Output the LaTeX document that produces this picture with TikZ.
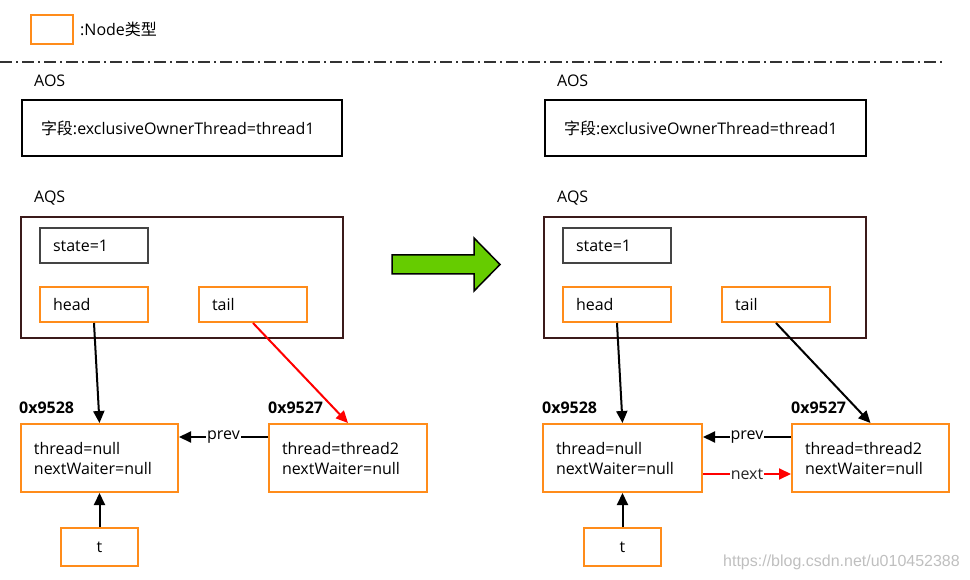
\documentclass[tikz,border=0pt]{standalone}
\usepackage{fontspec}
\setmainfont{Open Sans}
\newfontfamily\cjk{Noto Sans CJK SC}
\newfontfamily\wmfont{Liberation Sans}
\usepackage{xcolor}
\usetikzlibrary{arrows.meta, positioning}

\definecolor{nodeorange}{HTML}{FF8C1A}
\definecolor{aqsbrown}{HTML}{3B1A1A}
\definecolor{stategray}{HTML}{444444}
\definecolor{gogreen}{HTML}{66CC00}

\begin{document}
\begin{tikzpicture}[x=1pt, y=-1pt, >={Triangle[length=12pt,width=11pt]},
    font=\fontsize{16}{20}\selectfont,
    nodebox/.style={rectangle, draw=nodeorange, line width=2pt, anchor=north west, align=left, inner xsep=13pt, inner ysep=0pt},
    fieldbox/.style={rectangle, draw=black, line width=2pt, anchor=north west, align=left, inner xsep=19pt, inner ysep=0pt},
    addr/.style={anchor=west, inner sep=0pt, font=\fontsize{16}{20}\selectfont\bfseries},
    caption/.style={anchor=west, inner sep=0pt},
    link/.style={->, line width=2pt},
    lbl/.style={fill=white, inner sep=1pt}]
    \useasboundingbox (0,0) rectangle (970,580);

    % legend
    \node[nodebox, minimum width=42pt, minimum height=29pt] (legend) at (30,14) {};
    \node[caption, right=6pt of legend] (legendtxt) {:Node{\cjk 类型}};
    \draw[color=black!80, line width=2pt, dash pattern=on 12pt off 4pt on 2pt off 4pt] (0,62) -- (945,62);

    % ---------- before ----------
    \node[caption] (aosL) at (34,81) {AOS};
    \node[fieldbox, minimum width=320pt, minimum height=56pt, text width=282pt] (ownerL) at (21,99) {{\cjk 字段}:exclusiveOwnerThread=thread1};
    \node[caption] (aqsL) at (34,198) {AQS};
    \node[rectangle, draw=aqsbrown, line width=2pt, anchor=north west, minimum width=322pt, minimum height=121pt] (aqsboxL) at (20,216) {};
    \node[nodebox, draw=stategray, minimum width=108pt, minimum height=35pt, text width=82pt] (stateL) at (39,227) {state=1};
    \node[nodebox, minimum width=108pt, minimum height=35pt, text width=82pt] (headL) at (39,286) {head};
    \node[nodebox, minimum width=108pt, minimum height=35pt, text width=82pt] (tailL) at (198,286) {tail};

    \node[addr] (addrAL) at (19,408) {0x9528};
    \node[nodebox, minimum width=157pt, minimum height=68pt, text width=131pt] (firstL) at (20,423) {thread=null\\nextWaiter=null};
    \node[addr] (addrBL) at (268,408) {0x9527};
    \node[nodebox, minimum width=158pt, minimum height=68pt, text width=132pt] (secondL) at (268,423) {thread=thread2\\nextWaiter=null};
    \node[nodebox, minimum width=77pt, minimum height=38pt, align=center, inner xsep=0pt] (tL) at (60,527) {t};

    \draw[link] (headL.south) -- (firstL.north);
    \draw[link, red] (tailL.south) -- (secondL.north);
    \draw[link] ([yshift=21pt]secondL.west) -- node[lbl] (prevL) {prev} ([yshift=21pt]firstL.east);
    \draw[link] (tL) -- (firstL);

    % change
    \draw[fill=gogreen, line width=1.5pt, line join=miter] (392,255) -- (474,255) -- (474,238) -- (500,264.5) -- (474,291) -- (474,274) -- (392,274) -- cycle;

    % ---------- after ----------
    \node[caption] (aosR) at (557,81) {AOS};
    \node[fieldbox, minimum width=321pt, minimum height=56pt, text width=283pt] (ownerR) at (544,99) {{\cjk 字段}:exclusiveOwnerThread=thread1};
    \node[caption] (aqsR) at (557,198) {AQS};
    \node[rectangle, draw=aqsbrown, line width=2pt, anchor=north west, minimum width=322pt, minimum height=121pt] (aqsboxR) at (543,216) {};
    \node[nodebox, draw=stategray, minimum width=108pt, minimum height=35pt, text width=82pt] (stateR) at (562,227) {state=1};
    \node[nodebox, minimum width=108pt, minimum height=35pt, text width=82pt] (headR) at (562,286) {head};
    \node[nodebox, minimum width=108pt, minimum height=35pt, text width=82pt] (tailR) at (721,286) {tail};

    \node[addr] (addrAR) at (542,408) {0x9528};
    \node[nodebox, minimum width=159pt, minimum height=68pt, text width=133pt] (firstR) at (542,423) {thread=null\\nextWaiter=null};
    \node[addr] (addrBR) at (791,408) {0x9527};
    \node[nodebox, minimum width=157pt, minimum height=68pt, text width=131pt] (secondR) at (791,423) {thread=thread2\\nextWaiter=null};
    \node[nodebox, minimum width=77pt, minimum height=38pt, align=center, inner xsep=0pt] (tR) at (583,527) {t};

    \draw[link] (headR.south) -- (firstR.north);
    \draw[link] (tailR.south) -- (secondR.north);
    \draw[link] ([yshift=21pt]secondR.west) -- node[lbl] (prevR) {prev} ([yshift=21pt]firstR.east);
    \draw[link, red] ([yshift=-16pt]firstR.east) -- node[lbl, text=black!85] (nextR) {next} ([yshift=-16pt]secondR.west);
    \draw[link] (tR) -- (firstR);

    \node[anchor=east, inner sep=0pt, text=black!25, font=\wmfont\fontsize{16}{18}\selectfont] (mark) at (960,562) {https://blog.csdn.net/u010452388};
\end{tikzpicture}
\end{document}
